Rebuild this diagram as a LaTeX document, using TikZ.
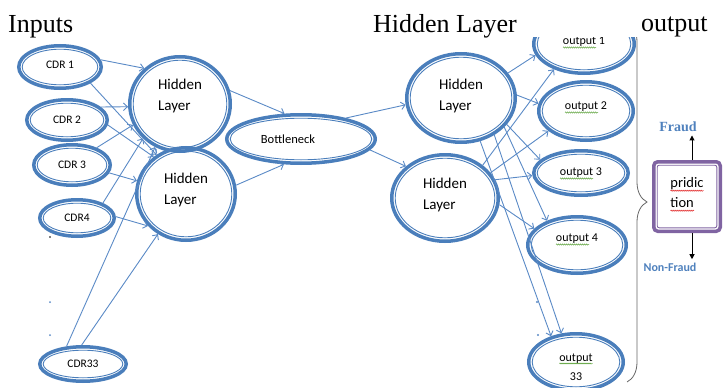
\documentclass[tikz,border=0pt]{standalone}
\usepackage{fontspec}
\setmainfont{Liberation Serif}
\newfontfamily\calib{Carlito}
\usetikzlibrary{shapes.geometric,arrows.meta,decorations.pathreplacing,decorations.pathmorphing,calc}
\definecolor{eblue}{HTML}{4A7EBB}
\definecolor{lblue}{HTML}{5A8AC6}
\definecolor{fblue}{HTML}{4F81BD}
\definecolor{purp}{HTML}{8064A2}
\definecolor{sqgreen}{HTML}{4E9A2A}
\definecolor{sqred}{HTML}{E02020}
\tikzset{
  dn/.style={ellipse, draw=eblue, line width=3.5pt, inner sep=0pt, align=center,
    font=\calib\fontsize{12}{19}\selectfont},
  dninner/.style={draw=eblue, line width=0.9pt},
  cdr/.style={font=\calib\fontsize{11.5}{14}\selectfont},
  hid/.style={font=\calib\fontsize{15}{21}\selectfont, align=left},
  conn/.style={draw=lblue, line width=0.9pt, -{Straight Barb[length=4pt,width=7.5pt]}},
  title/.style={font=\fontsize{26}{30}\selectfont, anchor=base west, inner sep=0pt},
  predbox/.style={rectangle, rounded corners=4pt, draw=purp, line width=3.5pt, align=left,
    font=\calib\fontsize{14.5}{20}\selectfont, inner sep=0pt},
  blk/.style={draw=black, line width=1pt, -{Triangle[length=5pt,width=5pt]}},
  gsq/.style={draw=sqgreen, line width=0.5pt, decorate, decoration={snake, amplitude=0.6pt, segment length=2pt}},
  rsq/.style={draw=sqred, line width=0.5pt, decorate, decoration={snake, amplitude=0.6pt, segment length=2pt}},
  bracestyle/.style={draw=black!60, line width=0.8pt, decorate, decoration={brace, amplitude=20pt}},
}
\newcommand\lowstrut[1]{\rule[-#1pt]{0pt}{0pt}}
\newcommand\highstrut[1]{\rule{0pt}{#1pt}}
\newcommand\ellnode[7][]{%
  \pgfmathsetmacro\ellW{2*#5-3.5}%
  \pgfmathsetmacro\ellH{2*#6-3.5}%
  \pgfmathsetmacro\ellRX{#5-5.2}%
  \pgfmathsetmacro\ellRY{#6-5.2}%
  \node[dn,minimum width=\ellW pt,minimum height=\ellH pt,#1] (#2) at (#3,#4) {#7};
  \draw[dninner] (#2.center) ellipse [x radius=\ellRX pt, y radius=\ellRY pt];
}
\begin{document}
\begin{tikzpicture}[x=1pt,y=-1pt]
\useasboundingbox (0,0) rectangle (723,388);

% titles
\node[title] (tin) at (8,32) {Inputs};
\node[title] (thid) at (373,32) {Hidden Layer};
\node[title] (tout) at (641,31) {output};

% inputs
\ellnode[cdr]{c1}{60}{67}{43}{23}{CDR 1\lowstrut{4}}
\ellnode[cdr]{c2}{67}{120}{42}{22}{CDR 2}
\ellnode[cdr]{c3}{72}{165}{40}{22}{CDR 3}
\ellnode[cdr]{c4}{77}{218}{39}{20}{CDR4}
\ellnode[cdr]{c33}{83}{364}{45}{19}{CDR33}

% hidden layers
\ellnode[hid]{h1}{180}{104}{52}{49}{Hidden\\Layer\lowstrut{17.5}}
\ellnode[hid]{h2}{186}{194}{51}{48}{Hidden\\Layer\lowstrut{10.5}}
\ellnode[font=\calib\fontsize{12.5}{15}\selectfont]{bn}{301}{139}{76}{26}{\hspace*{-26pt}Bottleneck}
\ellnode[hid]{r1}{461}{98}{56}{46}{Hidden\\Layer\lowstrut{5.5}}
\ellnode[hid]{r2}{445}{198}{55}{45}{Hidden\\Layer\lowstrut{7.5}}

% outputs
\begin{scope}
  \clip (0,37) rectangle (723,388);
  \ellnode{o1}{584}{44}{52}{31}{output 1\lowstrut{6.6}}
  \draw[bracestyle] (627,22) -- (627,382);
\end{scope}
\ellnode{o2}{586}{111}{49}{31}{output 2\lowstrut{10.6}}
\ellnode{o3}{581}{173}{49}{24}{output 3}
\ellnode{o4}{577}{245}{51}{30}{output 4\lowstrut{14.6}}
\ellnode{o33}{576}{362}{49}{30}{\highstrut{17.5}output\\33}

% squiggles
\draw[gsq] ($(o1.center)+(-21,3.5)$) -- ($(o1.center)+(12,3.5)$);
\draw[gsq] ($(o2.center)+(-21,1.5)$) -- ($(o2.center)+(12,1.5)$);
\draw[gsq] ($(o3.center)+(-21,5.5)$) -- ($(o3.center)+(12,5.5)$);
\draw[gsq] ($(o4.center)+(-21,-0.5)$) -- ($(o4.center)+(12,-0.5)$);
\draw[gsq] ($(o33.center)+(-16.6,1.5)$) -- ($(o33.center)+(16.6,1.5)$);

% dots
\fill[black] (50,237) circle (0.9pt);
\fill[lblue] (50,302) circle (1pt);
\fill[lblue] (50,335) circle (1pt);
\fill[lblue] (537,302) circle (1.1pt);
\fill[lblue] (538,335) circle (1.1pt);

% input connectors
\draw[conn] (c1.10) -- (h1.135);
\draw[conn] (c1.-28) -- (h2.127);
\draw[conn] (c2.21) -- (h1.183);
\draw[conn] (c2.-7) -- (h2.131);
\draw[conn] (c3.35) -- (h1.204);
\draw[conn] (c3.-12) -- (h2.165);
\draw[conn] (c4.30) -- (h1.223);
\draw[conn] (c4.2) -- (h2.220);
\draw[conn] (c33.133) -- (h1.240);
\draw[conn] (c33.94) -- (h2.235);

% middle connectors
\draw[conn] (h1.15) -- (bn.123);
\draw[conn] (h2.10) -- (bn.236);
\draw[conn] (bn.25) -- (r1.187);
\draw[conn] (bn.-9) -- (r2.141);

% output connectors
\draw[conn] (r1.28) -- (o1.193);
\draw[conn] (r1.3) -- (o2.171);
\draw[conn] (r1.-30) -- (o3.162);
\draw[conn] (r1.-34) -- (o4.141);
\draw[conn] (r1.-66) -- (o33.134);
\draw[conn] (r1.-48) -- (o33.117);
\draw[conn] (r2.41) -- (o1.220);
\draw[conn] (r2.29) -- (o2.208);
\draw[conn] (r2.20) -- (o3.183);
\draw[conn] (r2.-7) -- (o4.159);

% prediction
\node[predbox, minimum width=66.5pt, minimum height=69.5pt] (pred) at (687,196.5) {pridic\\tion\lowstrut{8}};
\draw[purp, line width=0.9pt, rounded corners=2pt] ($(pred.north west)+(5.2,5.2)$) rectangle ($(pred.south east)+(-5.2,-5.2)$);
\draw[rsq] ($(pred.center)+(-16.5,-5.8)$) -- ($(pred.center)+(16.5,-5.8)$);
\draw[rsq] ($(pred.center)+(-16.5,14.2)$) -- ($(pred.center)+(7,14.2)$);

\node[font=\bfseries\fontsize{14}{16}\selectfont, text=fblue] (fr) at (678,127) {Fraud};
\node[font=\calib\bfseries\fontsize{12}{14}\selectfont, text=fblue] (nf) at (670,267) {Non-Fraud};
\draw[blk] ([xshift=5pt]pred.north) -- ([xshift=5pt]pred.north |- fr.south);
\draw[blk] ([xshift=5pt]pred.south) -- ([xshift=5pt]pred.south |- nf.north);
\end{tikzpicture}
\end{document}
